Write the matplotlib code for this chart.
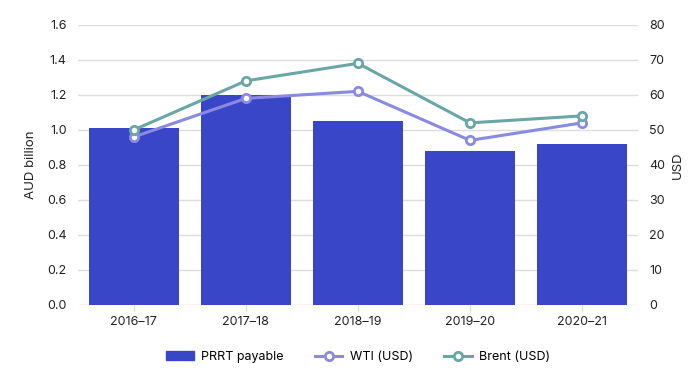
import matplotlib
matplotlib.use('Agg')
import matplotlib.pyplot as plt
import numpy as np
from matplotlib.lines import Line2D
from matplotlib.patches import Patch

plt.rcParams['font.family'] = ['Inter', 'DejaVu Sans']

# ── Data ──────────────────────────────────────────────────────────────────────
years = ['2016–17', '2017–18', '2018–19', '2019–20', '2020–21']
prrt_payable = [1.01, 1.20, 1.05, 0.88, 0.92]   # AUD billion
wti_usd = [48, 59, 61, 47, 52]
brent_usd = [50, 64, 69, 52, 54]

BAR_COLOR = '#3A46C8'
WTI_COLOR = '#8A8AE2'
BRENT_COLOR = '#6AA6A6'
GRID_COLOR = '#DDDDDD'
TEXT_COLOR = '#222222'

fig = plt.figure(figsize=(6.89, 3.88), dpi=100)
ax = fig.add_axes([0.113, 0.214, 0.813, 0.722])
ax2 = ax.twinx()

x = np.arange(len(years))
ax.bar(x, prrt_payable, width=0.8, color=BAR_COLOR, zorder=2)
ax.set_xlim(-0.5, len(years) - 0.5)
ax.set_ylim(0, 1.6)
ax.set_yticks(np.arange(0, 1.61, 0.2))
ax.set_yticklabels([f'{v:.1f}' for v in np.arange(0, 1.61, 0.2)])
ax.set_xticks(x)
ax.set_xticklabels(years)
ax.grid(axis='y', color=GRID_COLOR, linewidth=1, zorder=0)
ax.set_axisbelow(True)
ax.set_ylabel('AUD billion', fontsize=9.5, color=TEXT_COLOR, labelpad=7)

ax2.plot(x, wti_usd, color=WTI_COLOR, lw=2.2, marker='o', ms=6,
         mfc='white', mec=WTI_COLOR, mew=2, zorder=3)
ax2.plot(x, brent_usd, color=BRENT_COLOR, lw=2.2, marker='o', ms=6,
         mfc='white', mec=BRENT_COLOR, mew=2, zorder=3)
ax2.set_ylim(0, 80)
ax2.set_yticks(np.arange(0, 81, 10))
ax2.set_ylabel('USD', fontsize=9.5, color=TEXT_COLOR, labelpad=5)

for a in (ax, ax2):
    for s in a.spines.values():
        s.set_visible(False)
    a.tick_params(length=0, labelsize=9, colors=TEXT_COLOR, pad=8)
# small light-grey ticks under each category
ax.tick_params(axis='x', length=4, color=GRID_COLOR, width=1, pad=4)

handles = [
    Patch(color=BAR_COLOR, label='PRRT payable'),
    Line2D([], [], color=WTI_COLOR, lw=2.2, marker='o', ms=6, mfc='white',
           mec=WTI_COLOR, mew=2, label='WTI (USD)'),
    Line2D([], [], color=BRENT_COLOR, lw=2.2, marker='o', ms=6, mfc='white',
           mec=BRENT_COLOR, mew=2, label='Brent (USD)'),
]
fig.legend(handles=handles, loc='center', bbox_to_anchor=(0.52, 0.08), ncol=3,
           frameon=False, fontsize=9, handlelength=2.2, columnspacing=2.5,
           handletextpad=0.6)

fig.savefig('out.png', dpi=100)
